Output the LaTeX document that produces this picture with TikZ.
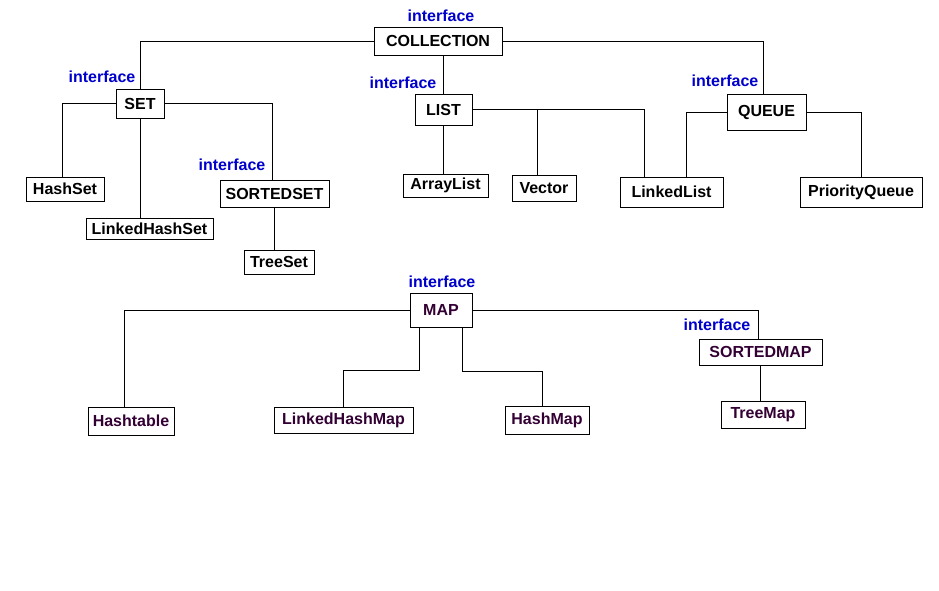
\documentclass[tikz,border=0pt]{standalone}
\usepackage{fontspec}
\setmainfont{Liberation Sans}
\usepackage{tikz}
\definecolor{ifblue}{HTML}{0000CC}
\definecolor{mapink}{HTML}{330033}

\begin{document}
\begin{tikzpicture}[x=1pt,y=-1pt,line width=0.9pt,
  every node/.style={font=\fontsize{16}{19}\selectfont\bfseries},
  box/.style={draw,inner sep=2pt},
  mapbox/.style={box,text=mapink},
  iface/.style={text=ifblue,inner sep=0pt}]
  \useasboundingbox (0,0) rectangle (939,590);
  \node[box,minimum width=128pt,minimum height=28pt] (coll) at (438,41) {COLLECTION};
  \node[box,minimum width=48pt,minimum height=29pt] (set) at (140,103.5) {SET};
  \node[box,minimum width=78pt,minimum height=24pt] (hs) at (65,189) {HashSet};
  \node[box,minimum width=127pt,minimum height=21pt] (lhs) at (149.5,228.5) {LinkedHashSet};
  \node[box,minimum width=109pt,minimum height=27pt] (ss) at (274.5,193.5) {SORTEDSET};
  \node[box,minimum width=70pt,minimum height=24pt] (ts) at (279,262) {TreeSet};
  \node[box,minimum width=57pt,minimum height=31pt] (list) at (443.5,109.5) {LIST};
  \node[box,minimum width=85pt,minimum height=23pt] (al) at (445.5,185.5) {ArrayList};
  \node[box,minimum width=64pt,minimum height=26pt] (vec) at (544,188) {Vector};
  \node[box,minimum width=103pt,minimum height=30pt] (ll) at (671.5,192) {LinkedList};
  \node[box,minimum width=79pt,minimum height=36pt] (queue) at (766.5,112) {QUEUE};
  \node[box,minimum width=122pt,minimum height=30pt] (pq) at (861,192) {PriorityQueue};
  \node[mapbox,minimum width=62pt,minimum height=34pt] (map) at (441,310) {MAP};
  \node[mapbox,minimum width=86pt,minimum height=28pt] (ht) at (131,421) {Hashtable};
  \node[mapbox,minimum width=139pt,minimum height=26pt] (lhm) at (343.5,420) {LinkedHashMap};
  \node[mapbox,minimum width=84pt,minimum height=28pt] (hm) at (547,420) {HashMap};
  \node[mapbox,minimum width=123pt,minimum height=26pt] (sm) at (760.5,352) {SORTEDMAP};
  \node[mapbox,minimum width=84pt,minimum height=27pt] (tm) at (763,414.5) {TreeMap};
  \node[iface] (collif) at (441,16) {interface};
  \node[iface] (setif) at (102,77) {interface};
  \node[iface] (ssif) at (232,165) {interface};
  \node[iface] (listif) at (403,83) {interface};
  \node[iface] (queueif) at (725,81) {interface};
  \node[iface] (mapif) at (442,282) {interface};
  \node[iface] (smif) at (717,325) {interface};
  \draw (coll.west) -| (set.north);
  \draw (list.north) -- (list.north |- coll.south);
  \draw (coll.east) -| ([xshift=-3pt]queue.north);
  \draw (set.west) -| ([xshift=-3pt]hs.north);
  \draw (set.south) -- (set.south |- lhs.north);
  \draw (set.east) -| ([xshift=-2pt]ss.north);
  \draw (ss.south) -- (ss.south |- ts.north);
  \draw (list.south) -- (list.south |- al.north);
  \draw (list.east) -| ([xshift=-27pt]ll.north);
  \draw ([xshift=-7pt]vec.north) -- ([xshift=-7pt]vec.north |- list.east);
  \draw (queue.west) -| ([xshift=15pt]ll.north);
  \draw (queue.east) -| (pq.north);
  \draw (map.west) -| ([xshift=-7pt]ht.north);
  \draw ([xshift=-22pt]map.south) -- ++(0,43) -| (lhm.north);
  \draw ([xshift=21pt]map.south) -- ++(0,44) -| ([xshift=-5pt]hm.north);
  \draw (map.east) -| ([xshift=-2pt]sm.north);
  \draw (sm.south) -- (sm.south |- tm.north);
\end{tikzpicture}
\end{document}
